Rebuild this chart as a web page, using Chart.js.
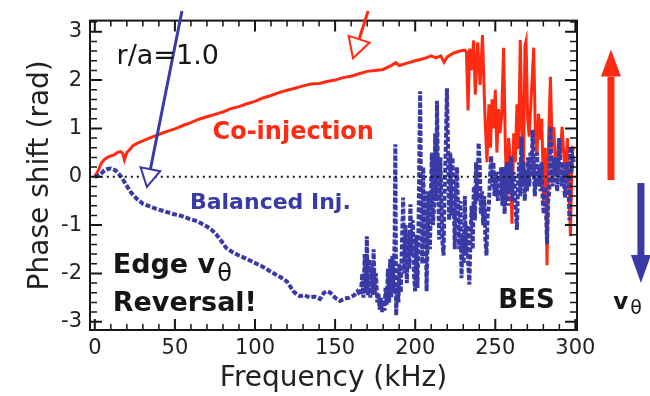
<!DOCTYPE html>
<html>
<head>
<meta charset="utf-8">
<script src="https://cdn.jsdelivr.net/npm/chart.js@4.4.1/dist/chart.umd.min.js"></script>
<style>
  html, body { margin: 0; padding: 0; background: #fff; }
  #wrap { width: 650px; height: 396px; position: relative; }
</style>
</head>
<body>
<div id="wrap"><canvas id="phaseC"></canvas></div>
<script>
// co-injection (red) phase shift vs frequency
const coFreq = [0, 2, 4, 6, 8, 10, 12, 14, 16, 17.5,
  18.5, 20, 22, 24, 27, 30, 34, 38, 42, 46,
  50, 55, 60, 65, 70, 75, 80, 85, 90, 95,
  100, 105, 110, 115, 120, 125, 130, 135, 140, 145,
  150, 155, 160, 165, 170, 175, 180, 185, 188, 190,
  195, 200, 205, 210, 213, 216, 218, 220, 224, 228,
  231, 232, 233, 234, 235, 236.5, 237.5, 239, 240.5, 242,
  243.5, 244.8, 246, 247, 248, 249, 250, 251, 252, 253,
  254, 255.2, 256.3, 257.3, 258.3, 259.4, 260.4, 261.5, 262.5, 263.5,
  264.5, 265.6, 266.6, 267.7, 268.5, 269.2, 270.2, 271.2, 272.5, 274,
  275, 276, 277, 278, 279, 280.2, 281.2, 282.3, 283.3, 284.4,
  285.5, 286.5, 287.5, 288.5, 289.5, 290.5, 291.7, 292.7, 293.8, 295,
  296.9, 298, 299];
const coPhase = [0, 0.12, 0.28, 0.36, 0.4, 0.43, 0.45, 0.5, 0.52, 0.48,
  0.35, 0.5, 0.57, 0.65, 0.7, 0.74, 0.8, 0.85, 0.9, 0.95,
  0.99, 1.06, 1.12, 1.19, 1.24, 1.29, 1.34, 1.41, 1.45, 1.51,
  1.56, 1.63, 1.68, 1.74, 1.79, 1.83, 1.88, 1.92, 1.93, 1.97,
  2.0, 2.05, 2.08, 2.13, 2.18, 2.2, 2.22, 2.3, 2.36, 2.3,
  2.35, 2.4, 2.44, 2.5, 2.46, 2.5, 2.37, 2.48, 2.56, 2.6,
  2.62, 2.58, 1.37, 2.65, 2.2, 2.82, 1.7, 2.78, 1.9, 2.93,
  1.3, 0.3, 1.5, 0.6, 1.6, 1.0, 1.8, 0.5, 1.4, 0.9,
  1.3, 2.67, 0.6, -0.5, 0.8, 0.37, -0.97, 0.9, 0.3, 1.5,
  0.57, 2.83, 1.0, 0.23, 2.7, 2.8, 1.2, 0.83, 1.7, 2.67,
  0.9, 0.43, 1.3, 0.77, 1.2, -0.5, 0.6, -1.83, 0.8, 2.07,
  0.6, 1.03, 0.3, 0.03, 0.8, 0.4, 1.03, 0.5, 0.03, 0.8,
  -1.23, 0.5, 0.63];

// balanced injection (blue) phase shift vs frequency
const balFreq = [0, 3, 6, 8, 10, 13, 16.5, 19.6, 22.7, 26,
  30, 34, 38, 44, 49, 54, 59, 64, 70, 73,
  76, 79, 82, 86, 90, 95, 99, 103, 107, 110,
  113.5, 117, 120, 122, 124, 126, 128, 131, 134, 137,
  140.6, 143, 145, 147, 150, 153, 156, 159, 162, 164,
  166, 167, 167.7, 168.5, 169.3, 169.8, 170.5, 171.2, 172, 172.8,
  173.5, 174, 174.8, 175.5, 176.3, 177, 177.8, 178.5, 179.3, 180,
  180.8, 181.5, 182.2, 183, 183.7, 184.4, 185.1, 185.8, 186.5, 187.2,
  187.6, 188.1, 188.8, 189.5, 190.2, 191, 191.8, 192.5, 193.2, 194,
  194.8, 195.5, 196.3, 197, 197.8, 198.5, 199.2, 200, 200.7, 201.4,
  202.1, 202.6, 203.1, 203.7, 204.4, 205, 205.7, 206.4, 207.1, 207.8,
  208.5, 209.2, 209.9, 210.4, 211.1, 211.8, 212.5, 213.2, 213.6, 214.3,
  215, 215.7, 216.4, 217.1, 217.7, 218.4, 219.1, 219.8, 220.5, 221.2,
  221.9, 222.6, 223.3, 224, 224.7, 225.4, 226.1, 226.8, 227.5, 228.2,
  228.9, 229.6, 230.3, 231, 231.7, 232.4, 233.1, 233.8, 234.5, 235.2,
  235.9, 236.6, 237.3, 238, 238.8, 239.6, 240.3, 241, 241.7, 242.4,
  243.1, 243.8, 244.5, 245.2, 246, 246.7, 247.4, 248.1, 248.8, 249.5,
  250.2, 250.9, 251.6, 252.3, 253, 253.7, 254.4, 255.1, 255.8, 256.5,
  257.2, 257.9, 258.6, 259.3, 260, 260.7, 261.4, 262.1, 262.8, 263.5,
  264.2, 264.9, 265.6, 266.3, 267, 267.7, 268.4, 269.1, 269.8, 270.5,
  271.2, 271.9, 272.6, 273.3, 274, 274.7, 275.4, 276.1, 276.8, 277.5,
  278.2, 278.9, 279.6, 280.3, 281, 281.7, 282.3, 283, 283.7, 284.4,
  285.1, 285.8, 286.5, 287.2, 287.9, 288.6, 289.3, 290, 290.7, 291.4,
  292.1, 292.8, 293.5, 294.2, 294.9, 295.6, 296.3, 296.9, 297.6, 298.3,
  299];
const balPhase = [0, 0.03, 0.13, 0.16, 0.17, 0.13, 0, -0.17, -0.33, -0.45,
  -0.56, -0.61, -0.66, -0.72, -0.77, -0.81, -0.87, -0.92, -1.03, -1.1,
  -1.2, -1.33, -1.47, -1.56, -1.63, -1.7, -1.77, -1.83, -1.9, -1.97,
  -2.03, -2.1, -2.17, -2.27, -2.37, -2.43, -2.47, -2.45, -2.5, -2.48,
  -2.53, -2.4, -2.37, -2.4, -2.5, -2.57, -2.52, -2.5, -2.45, -2.37,
  -2.45, -2.0, -2.5, -1.6, -2.4, -1.23, -2.45, -1.7, -2.5, -1.8,
  -2.45, -1.5, -2.4, -2.0, -2.6, -2.4, -2.75, -2.5, -2.8, -2.55,
  -2.77, -2.3, -2.65, -1.9, -2.6, -1.7, -2.5, -1.63, -2.4, -1.2,
  0.67, -2.87, -2.2, -2.6, -1.8, -2.4, -1.3, -0.43, -2.0, -1.0,
  -2.2, -1.2, -1.9, -0.57, -1.6, -0.9, -2.0, -2.37, -1.2, -2.3,
  -1.0, 0.5, 1.77, -0.8, -1.8, 0.2, -1.4, -0.3, -2.37, -1.2,
  -0.3, -1.5, -0.2, 0.5, -1.0, -0.6, 0.9, -0.5, 1.57, -0.2,
  -1.3, 0.4, -0.6, -1.4, -1.63, -0.2, 0.6, 1.83, 0.6, -0.9,
  0.5, -0.8, 0.4, -0.4, -1.5, -0.3, 0.2, -0.8, -1.5, -0.5,
  -2.1, -1.2, -1.8, -0.4, -1.6, -1.0, -1.8, -2.23, -1.3, -0.6,
  -1.5, -0.2, -0.9, 0.3, -0.5, 0.7, 0.2, -0.77, -0.3, -1.0,
  -0.4, -1.3, -1.63, -0.8, -0.6, 0.0, 0.43, -0.2, 0.3, -0.4,
  0.1, -0.23, -0.5, 0.1, -0.4, 0.2, -0.6, 0.2, -0.77, -0.1,
  0.3, -0.6, 0.3, -0.3, 0.43, -0.5, 0.1, -0.2, -0.7, -1.1,
  -0.2, 0.3, -0.4, 0.83, -0.2, 0.3, -0.5, 0.1, -0.3, 0.4,
  -0.2, 0.5, 0.0, 0.97, 0.2, -0.4, 0.3, 0.5, -0.2, 0.2,
  -0.3, 0.3, -0.5, -0.77, -0.2, -0.7, -1.4, -0.5, -0.3, 1.03,
  0.3, -0.2, 0.4, 0.0, 0.4, -0.3, 0.2, 0.8, 0.2, -0.2,
  0.3, -0.1, -0.43, 0.0, 0.3, -0.1, -0.9, 0.63, 0.1, 0.4,
  0.3];

const zeroFreq = [0, 300];
const zeroPhase = [0, 0];

const xTicks = [0, 50, 100, 150, 200, 250, 300];
const yTicks = [-3, -2, -1, 0, 1, 2, 3];

const RED = '#ff2a12';
const BLUE = '#3a3aa6';
const INK = '#161616';
const FONT = '"DejaVu Sans", sans-serif';

const pts = (xs, ys) => xs.map((x, i) => ({ x, y: ys[i] }));

// arrows in data units (some reach outside the plot frame)
const arrows = [
  { from: [54.4, 3.43], to: [32.5, -0.21], color: BLUE, width: 3, head: 18, half: 10, open: true },
  { from: [170.6, 3.43], to: [161.2, 2.45], color: RED, width: 3, head: 20, half: 11, open: true },
  { from: [322.2, -0.07], to: [322.2, 2.63], color: RED, width: 7, head: 27, half: 10, open: false },
  { from: [340.9, -0.13], to: [340.9, -2.2], color: BLUE, width: 7, head: 28, half: 10, open: false },
];

const notes = [
  { text: 'r/a=1.0', x: 13.6, y: 2.33, font: '27px ' + FONT, color: INK },
  { text: 'Co-injection', x: 73.5, y: 0.79, font: 'bold 24px ' + FONT, color: RED },
  { text: 'Balanced Inj.', x: 59.4, y: -0.67, font: 'bold 22px ' + FONT, color: BLUE },
  { text: 'Edge v', sub: 'θ', x: 11.2, y: -2.0, font: 'bold 27px ' + FONT, subFont: '24px ' + FONT, drop: 8, color: INK },
  { text: 'Reversal!', x: 11.2, y: -2.77, font: 'bold 27px ' + FONT, color: INK },
  { text: 'BES', x: 251.9, y: -2.71, font: 'bold 26px ' + FONT, color: INK },
  { text: 'v', sub: 'θ', x: 323.7, y: -2.73, font: 'bold 23px ' + FONT, subFont: '19px ' + FONT, drop: 5, color: INK },
];

function drawArrow(ctx, x0, y0, x1, y1, a) {
  const len = Math.hypot(x1 - x0, y1 - y0);
  const ux = (x1 - x0) / len, uy = (y1 - y0) / len;
  const bx = x1 - ux * a.head, by = y1 - uy * a.head;
  ctx.strokeStyle = a.color; ctx.fillStyle = a.color;
  ctx.lineWidth = a.width; ctx.lineCap = 'butt';
  ctx.beginPath(); ctx.moveTo(x0, y0); ctx.lineTo(bx, by); ctx.stroke();
  ctx.beginPath();
  ctx.moveTo(x1, y1);
  ctx.lineTo(bx - uy * a.half, by + ux * a.half);
  ctx.lineTo(bx + uy * a.half, by - ux * a.half);
  ctx.closePath();
  if (a.open) {
    ctx.fillStyle = '#fff'; ctx.fill();
    ctx.lineWidth = 2; ctx.lineJoin = 'miter'; ctx.stroke();
  } else {
    ctx.fill();
  }
}

const decorations = {
  id: 'decorations',
  afterDraw(chart) {
    const { ctx, chartArea: a, scales: { x, y } } = chart;
    ctx.save();
    ctx.strokeStyle = INK;
    // inward ticks on all four sides
    for (let v = 0; v <= 300; v += 10) {
      const px = x.getPixelForValue(v);
      const major = v % 50 === 0;
      const len = major ? 11 : 6;
      ctx.lineWidth = major ? 2 : 1.5;
      ctx.beginPath();
      ctx.moveTo(px, a.bottom); ctx.lineTo(px, a.bottom - len);
      ctx.moveTo(px, a.top); ctx.lineTo(px, a.top + len);
      ctx.stroke();
    }
    for (let i = -16; i <= 16; i++) {
      const v = i / 5;
      if (v < y.min || v > y.max) continue;
      const py = y.getPixelForValue(v);
      const major = i % 5 === 0;
      const len = major ? 12 : 7;
      ctx.lineWidth = major ? 2 : 1.5;
      ctx.beginPath();
      ctx.moveTo(a.left, py); ctx.lineTo(a.left + len, py);
      ctx.moveTo(a.right, py); ctx.lineTo(a.right - len, py);
      ctx.stroke();
    }
    ctx.lineWidth = 2;
    ctx.strokeRect(a.left, a.top, a.right - a.left, a.bottom - a.top);

    arrows.forEach(ar => {
      drawArrow(ctx, x.getPixelForValue(ar.from[0]), y.getPixelForValue(ar.from[1]),
        x.getPixelForValue(ar.to[0]), y.getPixelForValue(ar.to[1]), ar);
    });

    ctx.textBaseline = 'alphabetic'; ctx.textAlign = 'left';
    notes.forEach(n => {
      const px = x.getPixelForValue(n.x), py = y.getPixelForValue(n.y);
      ctx.font = n.font; ctx.fillStyle = n.color;
      ctx.fillText(n.text, px, py);
      if (n.sub) {
        const w = ctx.measureText(n.text).width;
        ctx.font = n.subFont;
        ctx.fillText(n.sub, px + w + 2, py + n.drop);
      }
    });
    ctx.restore();
  },
};

new Chart(document.getElementById('phaseC'), {
  type: 'line',
  data: {
    datasets: [
      { label: 'Balanced Inj.', data: pts(balFreq, balPhase), borderColor: BLUE, borderWidth: 4,
        borderDash: [5, 2], pointRadius: 0, tension: 0, order: 1 },
      { label: 'Co-injection', data: pts(coFreq, coPhase), borderColor: RED, borderWidth: 3,
        pointRadius: 0, tension: 0, order: 2 },
      { label: 'zero', data: pts(zeroFreq, zeroPhase), borderColor: INK, borderWidth: 2,
        borderDash: [2, 4], pointRadius: 0, order: 0 },
    ],
  },
  options: {
    responsive: true, maintainAspectRatio: false, animation: false, devicePixelRatio: 1,
    layout: { padding: { left: 0, right: 73, top: 10, bottom: 0 } },
    plugins: { legend: { display: false }, tooltip: { enabled: false } },
    scales: {
      x: {
        type: 'linear', min: -3, max: 301,
        afterBuildTicks: s => { s.ticks = xTicks.map(v => ({ value: v })); },
        afterFit: s => { s.height = 66; },
        grid: { display: false, drawTicks: false }, border: { display: false },
        ticks: { color: '#222', font: { family: FONT, size: 21 }, padding: 6, maxRotation: 0 },
        title: { display: true, text: 'Frequency (kHz)', color: '#222', font: { family: FONT, size: 28 }, padding: { top: 4, bottom: 0 } },
      },
      y: {
        type: 'linear', min: -3.17, max: 3.23,
        afterBuildTicks: s => { s.ticks = yTicks.map(v => ({ value: v })); },
        afterFit: s => { s.width = 90; },
        grid: { display: false, drawTicks: false }, border: { display: false },
        ticks: { color: '#222', font: { family: FONT, size: 21 }, padding: 8 },
        title: { display: true, text: 'Phase shift (rad)', color: '#222', font: { family: FONT, size: 28 }, padding: { top: 24, bottom: 0 } },
      },
    },
  },
  plugins: [decorations],
});
</script>
</body>
</html>
